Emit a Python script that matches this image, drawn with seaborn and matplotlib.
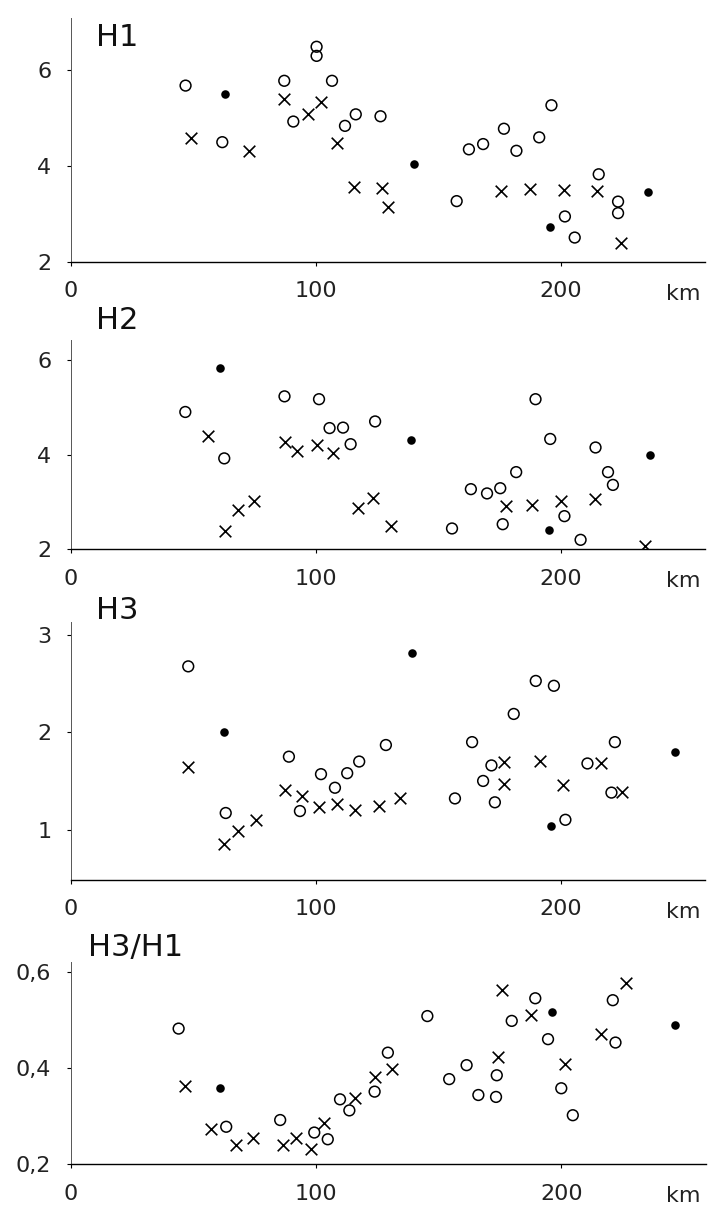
import matplotlib
matplotlib.use("Agg")
import matplotlib.pyplot as plt
import seaborn as sns
import pandas as pd
from matplotlib.ticker import FixedLocator

# ---------------- data (km, value) ----------------
h1_circ_km = [46.9, 61.9, 100.4, 100.4, 87.2, 90.9, 106.7, 112.0, 116.4, 126.5, 157.6, 162.6, 168.4,
              176.9, 182.0, 191.3, 196.3, 201.8, 205.8, 215.6, 223.5, 223.5]
h1_circ_v = [5.68, 4.50, 6.49, 6.30, 5.78, 4.93, 5.78, 4.84, 5.08, 5.04, 3.27, 4.35, 4.46,
             4.78, 4.32, 4.60, 5.27, 2.95, 2.51, 3.83, 3.26, 3.02]
h1_x_km = [49.1, 72.7, 87.2, 97.0, 102.4, 108.6, 115.6, 127.2, 129.7, 175.9, 187.5, 201.5, 214.7, 224.9]
h1_x_v = [4.59, 4.32, 5.41, 5.08, 5.33, 4.48, 3.56, 3.54, 3.15, 3.49, 3.52, 3.50, 3.49, 2.40]
h1_dot_km = [63.0, 140.2, 195.6, 235.8]
h1_dot_v = [5.51, 4.05, 2.74, 3.47]

h2_circ_km = [46.8, 62.7, 87.3, 101.4, 105.7, 111.2, 114.3, 124.3, 155.7, 163.4, 170.0, 175.4, 176.4,
              181.9, 189.8, 195.8, 201.6, 208.2, 214.3, 219.4, 221.4]
h2_circ_v = [4.90, 3.92, 5.23, 5.17, 4.56, 4.57, 4.22, 4.70, 2.44, 3.27, 3.18, 3.29, 2.53,
             3.63, 5.17, 4.33, 2.70, 2.20, 4.15, 3.63, 3.36]
h2_x_km = [56.1, 63.2, 68.2, 75.0, 87.7, 92.5, 100.7, 107.1, 117.3, 123.6, 130.7, 177.8, 188.4, 200.3,
           213.9, 234.4]
h2_x_v = [4.40, 2.39, 2.83, 3.03, 4.27, 4.08, 4.20, 4.03, 2.87, 3.08, 2.50, 2.92, 2.94, 3.01, 3.06, 2.07]
h2_dot_km = [61.1, 138.9, 195.5, 236.7]
h2_dot_v = [5.83, 4.30, 2.41, 3.99]

h3_circ_km = [48.0, 63.3, 89.1, 93.6, 102.2, 107.9, 112.9, 117.8, 128.7, 156.9, 163.9, 171.8, 168.4,
              173.2, 180.9, 189.9, 197.3, 202.0, 211.0, 222.2, 220.8]
h3_circ_v = [2.68, 1.17, 1.75, 1.19, 1.57, 1.43, 1.58, 1.70, 1.87, 1.32, 1.90, 1.66, 1.50,
             1.28, 2.19, 2.53, 2.48, 1.10, 1.68, 1.90, 1.38]
h3_x_km = [47.8, 62.6, 68.4, 75.6, 87.5, 94.5, 101.5, 108.6, 116.0, 126.0, 134.4, 177.0, 177.0, 191.6,
           201.1, 216.4, 225.3]
h3_x_v = [1.64, 0.85, 0.98, 1.10, 1.41, 1.35, 1.23, 1.26, 1.20, 1.24, 1.32, 1.70, 1.47, 1.71,
          1.46, 1.68, 1.39]
h3_dot_km = [62.6, 139.4, 196.3, 246.7]
h3_dot_v = [2.00, 2.82, 1.04, 1.80]

r_circ_km = [44.0, 63.4, 85.4, 99.3, 104.8, 109.8, 113.6, 123.9, 129.3, 145.4, 154.3, 161.4, 166.2,
             173.4, 173.7, 179.8, 189.4, 194.6, 200.0, 204.7, 222.1, 221.0]
r_circ_v = [0.482, 0.278, 0.292, 0.266, 0.252, 0.335, 0.312, 0.351, 0.432, 0.508, 0.377, 0.406, 0.344,
            0.340, 0.385, 0.498, 0.545, 0.460, 0.358, 0.302, 0.453, 0.541]
r_x_km = [46.4, 57.3, 67.5, 74.3, 86.4, 91.8, 98.0, 103.4, 115.7, 124.2, 131.0, 174.0, 175.7, 187.6,
          201.6, 216.0, 226.5]
r_x_v = [0.363, 0.273, 0.240, 0.255, 0.240, 0.255, 0.231, 0.285, 0.337, 0.382, 0.399, 0.422, 0.563,
         0.510, 0.408, 0.471, 0.577]
r_dot_km = [60.8, 138.6, 196.2, 246.4]
r_dot_v = [0.359, 0.652, 0.517, 0.489]

panel_titles = ["H1", "H2", "H3", "H3/H1"]
x_ticks = [0, 100, 200]
x_ticklabels = ["0", "100", "200"]
y_ticks = [[2, 4, 6], [2, 4, 6], [1, 2, 3], [0.2, 0.4, 0.6]]
y_ticklabels = [["2", "4", "6"], ["2", "4", "6"], ["1", "2", "3"], ["0,2", "0,4", "0,6"]]
y_limits = [(2, 7.09), (2, 6.42), (0.48, 3.14), (0.2, 0.621)]
x_limit = (0, 259)

panels = [
    (h1_circ_km, h1_circ_v, h1_x_km, h1_x_v, h1_dot_km, h1_dot_v),
    (h2_circ_km, h2_circ_v, h2_x_km, h2_x_v, h2_dot_km, h2_dot_v),
    (h3_circ_km, h3_circ_v, h3_x_km, h3_x_v, h3_dot_km, h3_dot_v),
    (r_circ_km, r_circ_v, r_x_km, r_x_v, r_dot_km, r_dot_v),
]

# ---------------- style ----------------
sns.set_theme(style="white")
plt.rcParams["font.family"] = ["DejaVu Sans"]

W, H = 710, 1209
fig = plt.figure(figsize=(W / 100, H / 100), dpi=100)
fig.patch.set_facecolor("white")

# axes boxes in pixels: (left, right, top, bottom)
boxes = [(70.7, 705, 18, 262), (70.7, 705, 340, 549.3), (70.7, 705, 621.7, 880), (70.7, 706, 961.7, 1164.3)]
title_pos = [(96, 23), (96, 306), (96, 596), (88, 933)]

for i, (ck, cv, xk, xv, dk, dv) in enumerate(panels):
    l, r, t, b = boxes[i]
    ax = fig.add_axes([l / W, 1 - b / H, (r - l) / W, (b - t) / H])
    ax.set_facecolor("white")
    sns.scatterplot(x=ck, y=cv, ax=ax, marker="o", s=60, facecolors="none",
                    edgecolor="black", linewidth=1.1, zorder=3)
    sns.scatterplot(x=xk, y=xv, ax=ax, marker="x", s=70, color="black",
                    linewidth=1.2, zorder=3)
    sns.scatterplot(x=dk, y=dv, ax=ax, marker="o", s=38, color="black",
                    edgecolor="black", linewidth=0, zorder=3)
    ax.set_xlim(*x_limit)
    ax.set_ylim(*y_limits[i])
    ax.xaxis.set_major_locator(FixedLocator(x_ticks))
    ax.set_xticklabels(x_ticklabels)
    ax.yaxis.set_major_locator(FixedLocator(y_ticks[i]))
    ax.set_yticklabels(y_ticklabels[i])
    for s in ["top", "right"]:
        ax.spines[s].set_visible(False)
    ax.spines["bottom"].set_color("black")
    ax.spines["bottom"].set_linewidth(1.0)
    ax.spines["left"].set_color("#555555")
    ax.spines["left"].set_linewidth(0.7)
    ax.tick_params(axis="both", which="major", direction="out", length=3, width=0.8,
                   color="black", labelsize=16, labelcolor="#222222", bottom=True, left=True)
    ax.tick_params(axis="x", pad=11)
    ax.tick_params(axis="y", pad=11)
    ax.set_xlabel("")
    ax.set_ylabel("")
    ax.grid(False)
    ax.text((683 - l) / (r - l), -22 / (b - t), "km", transform=ax.transAxes,
            ha="center", va="top", fontsize=16, color="#222222")
    tx, ty = title_pos[i]
    fig.text(tx / W, 1 - ty / H, panel_titles[i], ha="left", va="top", fontsize=22,
             color="#111111")

fig.savefig("out.png", dpi=100, facecolor="white")
